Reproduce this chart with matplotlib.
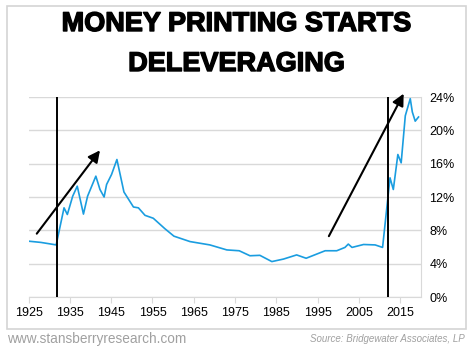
import matplotlib.pyplot as plt
import matplotlib.patheffects as pe
from matplotlib.patches import Rectangle

# data (money printing as % of GDP, roughly)
years = [1925, 1928, 1930.5, 1931.7, 1933.6, 1934.4, 1935.7, 1936.8, 1938.3,
         1939.3, 1941.3, 1942.3, 1943.3, 1943.9, 1945.1, 1946.4, 1948.1,
         1950.4, 1951.6, 1953.2, 1955.2, 1958.0, 1960.2, 1964.1, 1968.9,
         1973.0, 1976.0, 1978.6, 1981.0, 1983.9, 1986.7, 1989.9, 1992.2,
         1996.8, 1999.6, 2001.6, 2002.4, 2003.3, 2006.1, 2008.9, 2010.7,
         2012.5, 2013.3, 2014.4, 2015.2, 2016.2, 2017.4, 2017.9, 2018.6,
         2019.4]
values = [6.7, 6.55, 6.35, 6.25, 10.7, 9.9, 12.1, 13.3, 9.95,
          12.1, 14.5, 12.9, 12.0, 13.5, 14.7, 16.5, 12.6,
          10.8, 10.7, 9.8, 9.45, 8.2, 7.3, 6.65, 6.25,
          5.65, 5.55, 4.95, 5.0, 4.25, 4.55, 5.05, 4.65,
          5.55, 5.55, 5.95, 6.35, 5.95, 6.3, 6.25, 5.95,
          14.3, 12.9, 17.1, 16.1, 21.75, 23.8, 22.2, 21.1,
          21.6]

xticks = list(range(1925, 2016, 10))
yticks = [0, 4, 8, 12, 16, 20, 24]
ytick_labels = [f"{v}%" for v in yticks]

vlines = [1932, 2012]
arrows = [((1927, 7.6), (1942.3, 17.6)), ((1997.7, 7.3), (2015.8, 24.4))]

title_lines = ["MONEY PRINTING STARTS", "DELEVERAGING"]
footer_left = "www.stansberryresearch.com"
footer_right = "Source: Bridgewater Associates, LP"

plt.rcParams['font.family'] = ['Liberation Sans', 'DejaVu Sans']

fig = plt.figure(figsize=(4.74, 3.51), dpi=100)

# light gray frame around the panel
fig.patches.append(Rectangle((7 / 474, 1 - 329 / 351), 459 / 474, 323 / 351,
                             transform=fig.transFigure, fill=False,
                             edgecolor='#d4d4d4', linewidth=1.2))

ax = fig.add_axes([28.5 / 474, 54 / 351, 392.5 / 474, 200 / 351])

ax.plot(years, values, color='#1a9de0', linewidth=1.2, zorder=3)

for x in vlines:
    ax.plot([x, x], [0, 24], color='black', linewidth=1.4, zorder=4)

for start, end in arrows:
    ax.annotate('', xy=end, xytext=start, annotation_clip=False,
                arrowprops=dict(arrowstyle='-|>,head_length=0.7,head_width=0.35',
                                color='black', linewidth=1.5, shrinkA=0, shrinkB=0),
                zorder=5)

ax.set_xlim(1925, 2020)
ax.set_ylim(0, 24)
ax.set_xticks(xticks)
ax.set_xticklabels([str(x) for x in xticks])
ax.set_yticks(yticks)
ax.set_yticklabels(ytick_labels)
ax.yaxis.tick_right()
ax.grid(axis='y', color='#d9d9d9', linewidth=1)
ax.set_axisbelow(True)

for s in ['left', 'top']:
    ax.spines[s].set_visible(False)
ax.spines['right'].set_color('#d9d9d9')
ax.spines['bottom'].set_color('#d9d9d9')
ax.tick_params(axis='x', length=4, color='#d9d9d9', labelsize=9, pad=3)
ax.tick_params(axis='y', length=0, labelsize=9, pad=6)

# title, two lines placed separately; stroke makes it look heavier
for txt, ypx in zip(title_lines, [24, 64]):
    fig.text(0.5, 1 - ypx / 351, txt, ha='center', va='center', fontsize=19.5,
             fontweight='bold',
             path_effects=[pe.withStroke(linewidth=1.0, foreground='black')])
fig.text(7 / 474, 1 - 339 / 351, footer_left, ha='left', va='center',
         fontsize=9.8, color='#a0a0a0')
fig.text(465 / 474, 1 - 339 / 351, footer_right, ha='right', va='center',
         fontsize=7, color='#a0a0a0', style='italic')

fig.savefig('out.png', dpi=100)
